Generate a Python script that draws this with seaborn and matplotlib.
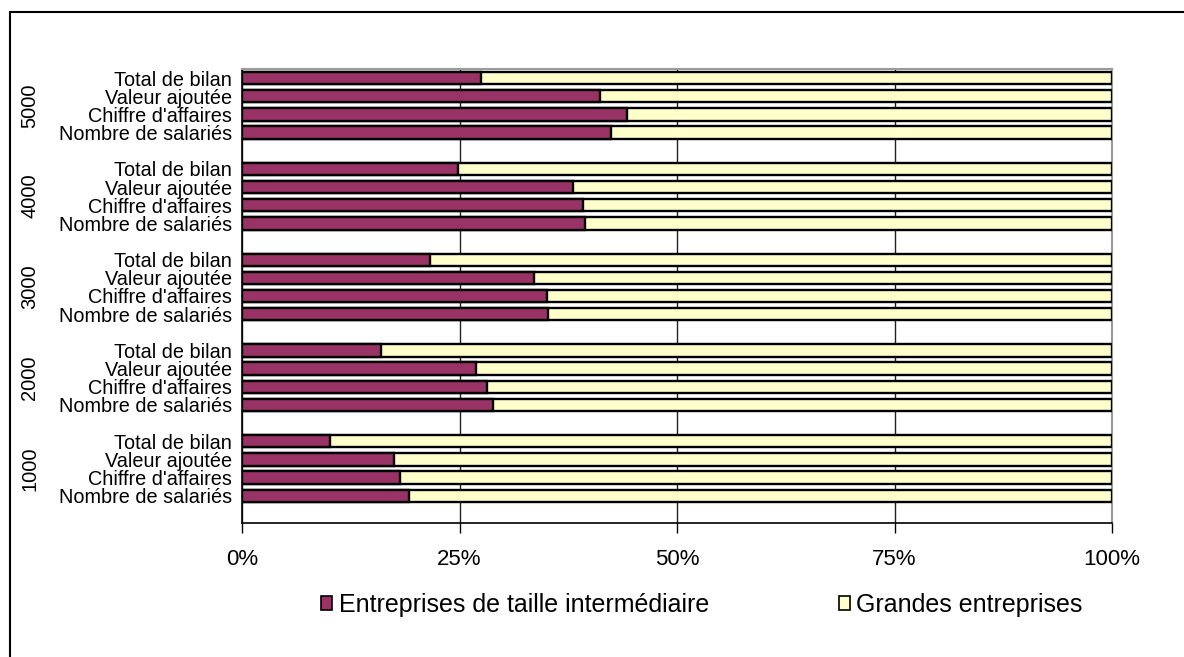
import matplotlib
matplotlib.use("Agg")
import matplotlib.pyplot as plt
import seaborn as sns
import pandas as pd
from matplotlib.lines import Line2D
from matplotlib.patches import Patch
from matplotlib.transforms import blended_transform_factory

groups = ["5000", "4000", "3000", "2000", "1000"]
categories = ["Total de bilan", "Valeur ajoutée", "Chiffre d'affaires", "Nombre de salariés"]
# share of "Entreprises de taille intermédiaire" (%), per group, in category order
eti_share = {
    "5000": [27.5, 41.2, 44.2, 42.4],
    "4000": [24.8, 38.0, 39.2, 39.4],
    "3000": [21.6, 33.6, 35.1, 35.2],
    "2000": [16.0, 26.9, 28.2, 28.9],
    "1000": [10.1, 17.5, 18.2, 19.2],
}
series_names = ["Entreprises de taille intermédiaire", "Grandes entreprises"]
colors = ["#993366", "#FFFFCC"]
xticks = [0, 25, 50, 75, 100]

rows = []
order = []
for gi, g in enumerate(groups):
    for c, v in zip(categories, eti_share[g]):
        key = f"{g}|{c}"
        order.append(key)
        rows.append({"row": key, "group": g, "cat": c, "eti": v, "total": 100.0})
    order.append(f"blank{gi}")
df = pd.DataFrame(rows)

sns.set_style("white")
plt.rcParams["font.family"] = ["Liberation Sans", "DejaVu Sans"]
plt.rcParams["text.color"] = "black"
plt.rcParams["xtick.color"] = "black"
plt.rcParams["ytick.color"] = "black"
plt.rcParams["axes.labelcolor"] = "black"

fig = plt.figure(figsize=(11.84, 6.57), dpi=100)
ax = fig.add_axes([242 / 1184, 1 - 523 / 657, 870 / 1184, 454 / 657])

bw = 0.68
sns.barplot(data=df, y="row", x="total", order=order, color=colors[1], orient="h",
            width=bw, edgecolor="black", linewidth=1.7, saturation=1, ax=ax, zorder=3)
sns.barplot(data=df, y="row", x="eti", order=order, color=colors[0], orient="h",
            width=bw, edgecolor="black", linewidth=1.7, saturation=1, ax=ax, zorder=4)

ax.set_xlim(0, 100)
ax.set_ylim(len(order) - 0.5, -0.5)
ax.set_xticks(xticks)
ax.set_xticklabels([f"{t}%" for t in xticks], fontsize=16, color="black")
ax.xaxis.grid(True, color="#222222", linewidth=1.0, zorder=0)
ax.set_axisbelow(True)

pos = {k: i for i, k in enumerate(order)}
ytick_pos = [pos[r] for r in df["row"]]
ax.set_yticks(ytick_pos)
ax.set_yticklabels(df["cat"].tolist(), fontsize=14.3, color="black")
ax.tick_params(axis="y", length=0, pad=7)
ax.tick_params(axis="x", length=7, width=1, direction="out", pad=12, color="black", bottom=True)
ax.set_xlabel("")
ax.set_ylabel("")

for sp in ["left", "bottom"]:
    ax.spines[sp].set_color("black")
    ax.spines[sp].set_linewidth(1.2)
for sp in ["top", "right"]:
    ax.spines[sp].set_color("#9a9a9a")
    ax.spines[sp].set_linewidth(1.5)

# group labels
tr = blended_transform_factory(fig.transFigure, ax.transData)
for g in groups:
    ys = [pos[f"{g}|{c}"] for c in categories]
    yc = sum(ys) / len(ys)
    ax.text(30 / 1184, yc, g, rotation=90, ha="center", va="center", fontsize=14.5,
            color="black", transform=tr)

handles = [Patch(facecolor=colors[0], edgecolor="black", linewidth=1.2),
           Patch(facecolor=colors[1], edgecolor="black", linewidth=1.2)]
fig.legend(handles, series_names, loc="center", bbox_to_anchor=(702 / 1184, 1 - 605 / 657),
           ncol=2, frameon=False, fontsize=18, handlelength=0.45, handleheight=0.45,
           handletextpad=0.25, columnspacing=5.2, labelcolor="black")

# outer chart frame (left and top edges visible)
fig.add_artist(Line2D([9.5 / 1184, 9.5 / 1184], [0, 1 - 12 / 657], transform=fig.transFigure,
                      color="black", linewidth=1.5))
fig.add_artist(Line2D([9.5 / 1184, 1], [1 - 12 / 657, 1 - 12 / 657], transform=fig.transFigure,
                      color="black", linewidth=1.5))

fig.savefig("out.png", dpi=100)
